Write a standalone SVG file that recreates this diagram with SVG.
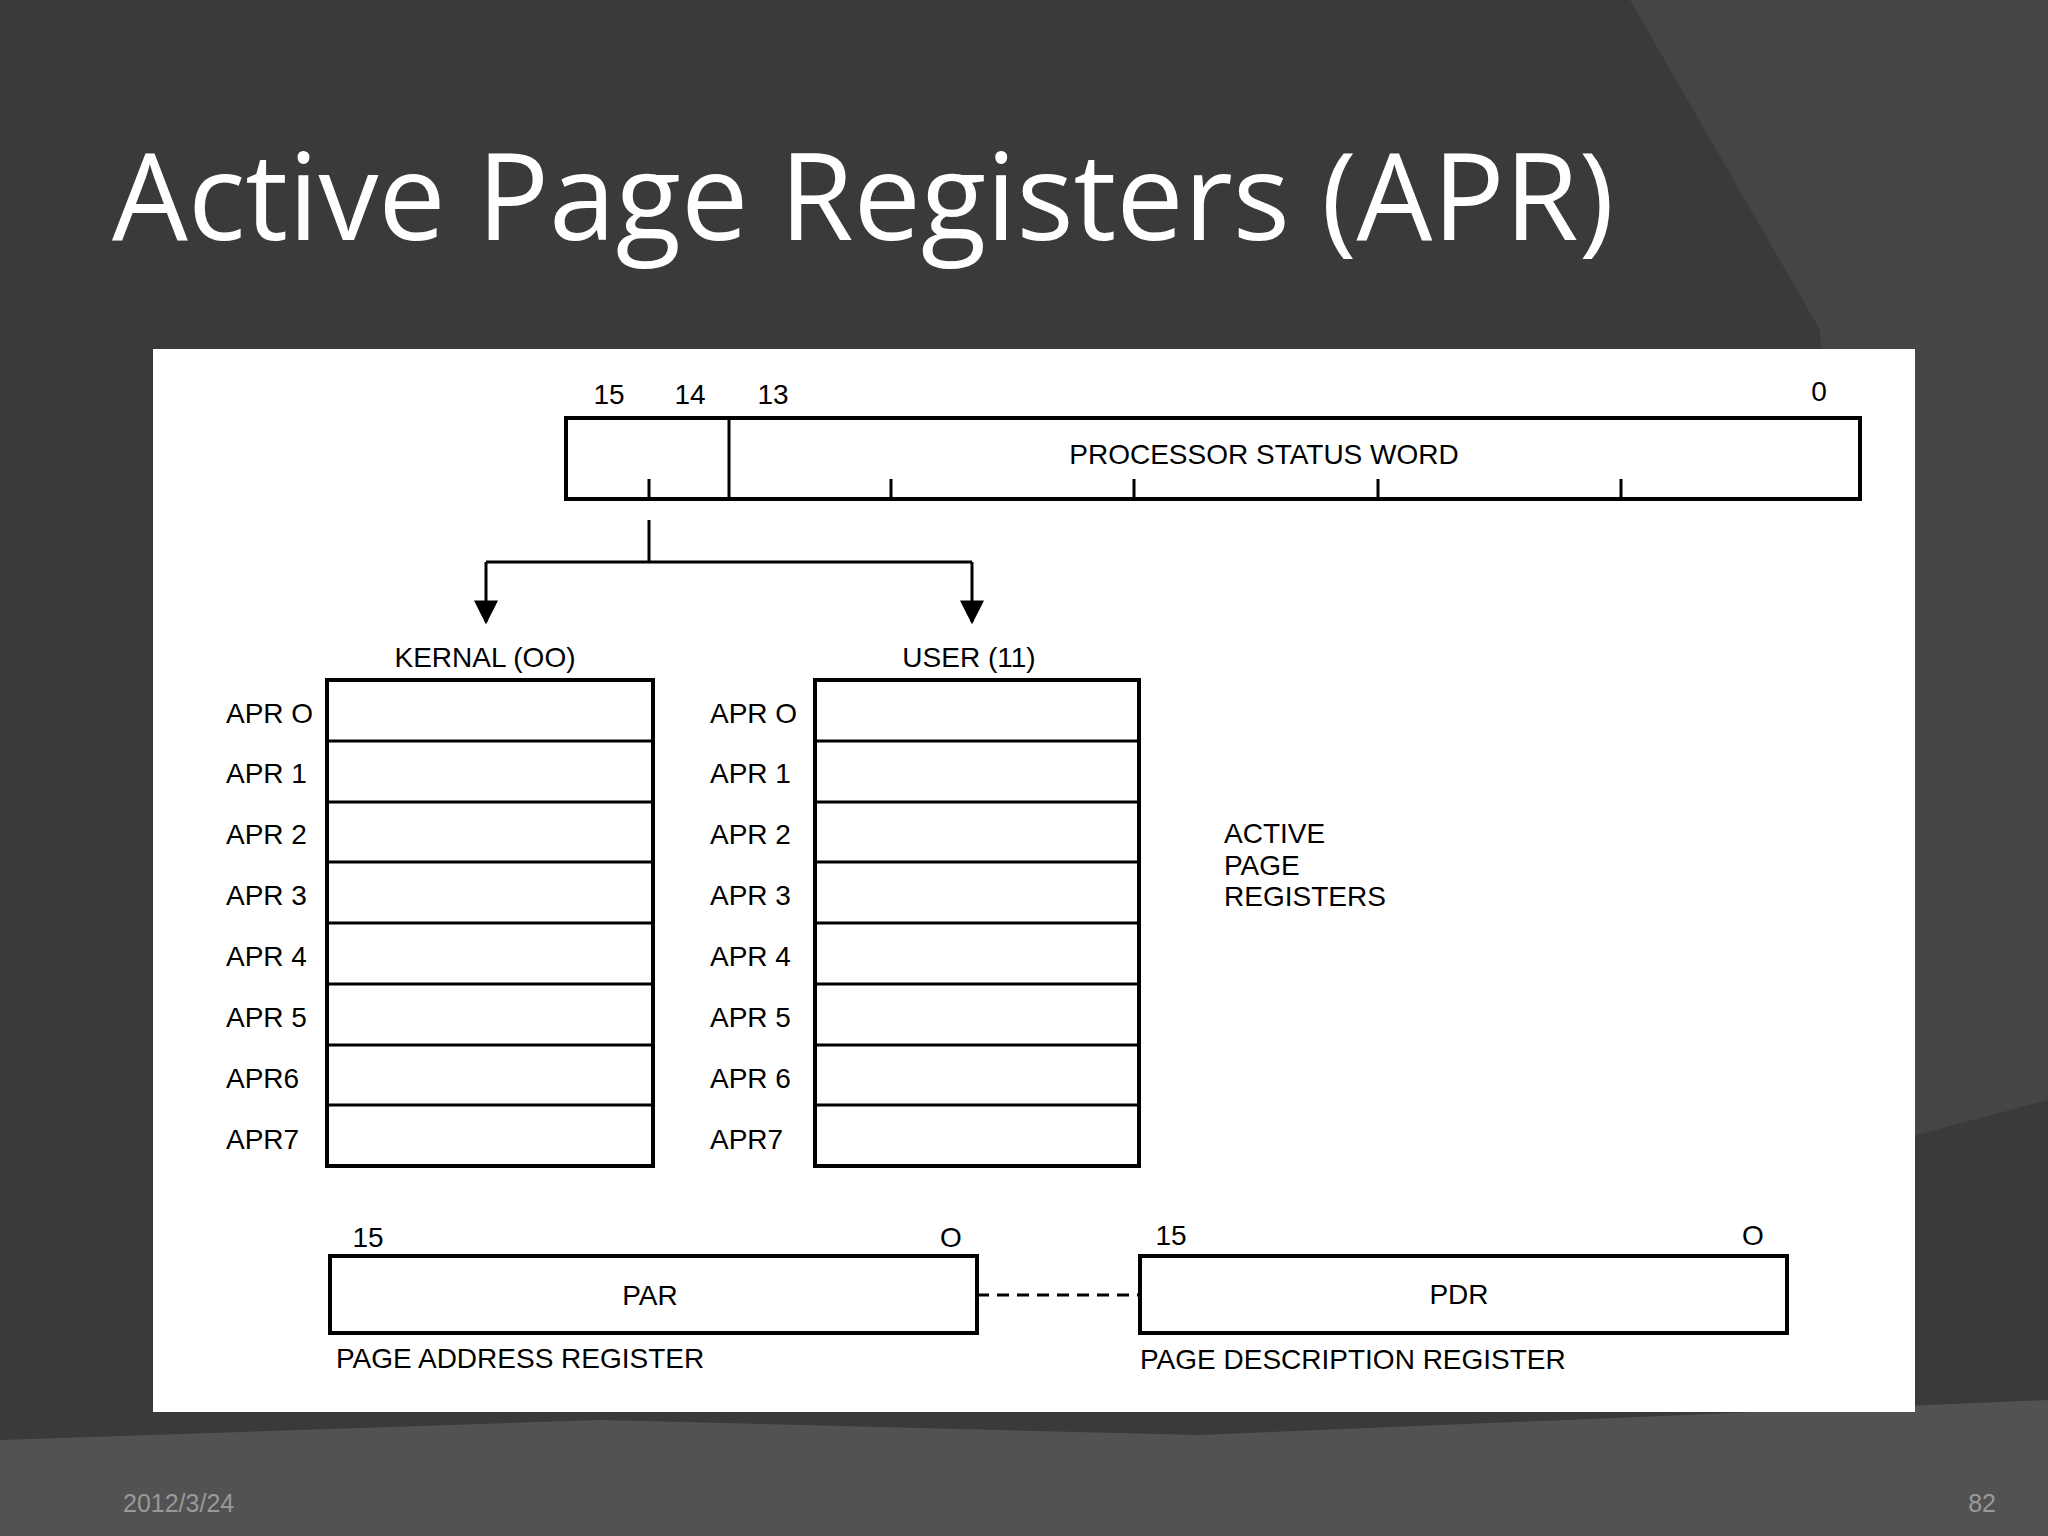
<svg xmlns="http://www.w3.org/2000/svg" width="2048" height="1536" viewBox="0 0 2048 1536">
<defs>
<style>
.t{font-family:"Liberation Sans",Arial,sans-serif;font-size:28px;fill:#000}
.b{fill:#fff;stroke:#000;stroke-width:4}
.l{stroke:#000;stroke-width:3;fill:none}
</style>
<marker id="ar" viewBox="0 0 10 10" refX="9" refY="5" markerWidth="8" markerHeight="10" orient="auto"><path d="M0,0L10,5L0,10z" fill="#000"/></marker>
</defs>
<rect width="2048" height="1536" fill="#3a3a3a"/>
<polygon points="1630,0 2048,0 2048,1100 1860,1150 1820,330" fill="#454545"/>
<polygon points="0,1440 600,1420 1200,1435 2048,1400 2048,1536 0,1536" fill="#525252"/>
<text x="112" y="240" font-family="'Open Sans','Liberation Sans',sans-serif" font-size="120" fill="#fff">Active Page Registers (APR)</text>
<rect x="153" y="349" width="1762" height="1063" fill="#fff"/>
<g id="psw">
<rect class="b" x="566" y="418" width="1294" height="81"/>
<path class="l" d="M729,418V499M649,499V479M891,499V479M1134,499V479M1378,499V479M1621,499V479"/>
<text class="t" x="609" y="404" text-anchor="middle">15</text>
<text class="t" x="690" y="404" text-anchor="middle">14</text>
<text class="t" x="773" y="404" text-anchor="middle">13</text>
<text class="t" x="1819" y="401" text-anchor="middle">0</text>
<text class="t" x="1264" y="464" text-anchor="middle">PROCESSOR STATUS WORD</text>
</g>
<g id="connectors">
<path class="l" d="M649,520V562M486,562H972"/>
<path class="l" d="M486,562V622" marker-end="url(#ar)"/>
<path class="l" d="M972,562V622" marker-end="url(#ar)"/>
<path class="l" d="M977,1295H1140" stroke-dasharray="12,8"/>
</g>
<g id="kernal">
<text class="t" x="485" y="667" text-anchor="middle">KERNAL (OO)</text>
<rect class="b" x="327" y="680" width="326" height="486"/>
<path class="l" d="M327,741H653M327,802H653M327,862H653M327,923H653M327,984H653M327,1045H653M327,1105H653"/>
<g class="t"><text x="226" y="723">APR O</text><text x="226" y="783">APR 1</text><text x="226" y="844">APR 2</text><text x="226" y="905">APR 3</text><text x="226" y="966">APR 4</text><text x="226" y="1027">APR 5</text><text x="226" y="1088">APR6</text><text x="226" y="1149">APR7</text></g>
</g>
<g id="user">
<text class="t" x="969" y="667" text-anchor="middle">USER (11)</text>
<rect class="b" x="815" y="680" width="324" height="486"/>
<path class="l" d="M815,741H1139M815,802H1139M815,862H1139M815,923H1139M815,984H1139M815,1045H1139M815,1105H1139"/>
<g class="t"><text x="710" y="723">APR O</text><text x="710" y="783">APR 1</text><text x="710" y="844">APR 2</text><text x="710" y="905">APR 3</text><text x="710" y="966">APR 4</text><text x="710" y="1027">APR 5</text><text x="710" y="1088">APR 6</text><text x="710" y="1149">APR7</text></g>
</g>
<g id="label" class="t"><text x="1224" y="843">ACTIVE</text><text x="1224" y="875">PAGE</text><text x="1224" y="906">REGISTERS</text></g>
<g id="par">
<rect class="b" x="330" y="1256" width="647" height="77"/>
<text class="t" x="368" y="1247" text-anchor="middle">15</text>
<text class="t" x="951" y="1247" text-anchor="middle">O</text>
<text class="t" x="650" y="1305" text-anchor="middle">PAR</text>
<text class="t" x="336" y="1368">PAGE ADDRESS REGISTER</text>
</g>
<g id="pdr">
<rect class="b" x="1140" y="1256" width="647" height="77"/>
<text class="t" x="1171" y="1245" text-anchor="middle">15</text>
<text class="t" x="1753" y="1245" text-anchor="middle">O</text>
<text class="t" x="1459" y="1304" text-anchor="middle">PDR</text>
<text class="t" x="1140" y="1369">PAGE DESCRIPTION REGISTER</text>
</g>
<text x="123" y="1512" font-family="'Liberation Sans',sans-serif" font-size="25" fill="#999">2012/3/24</text>
<text x="1996" y="1512" font-family="'Liberation Sans',sans-serif" font-size="25" fill="#999" text-anchor="end">82</text>
</svg>
